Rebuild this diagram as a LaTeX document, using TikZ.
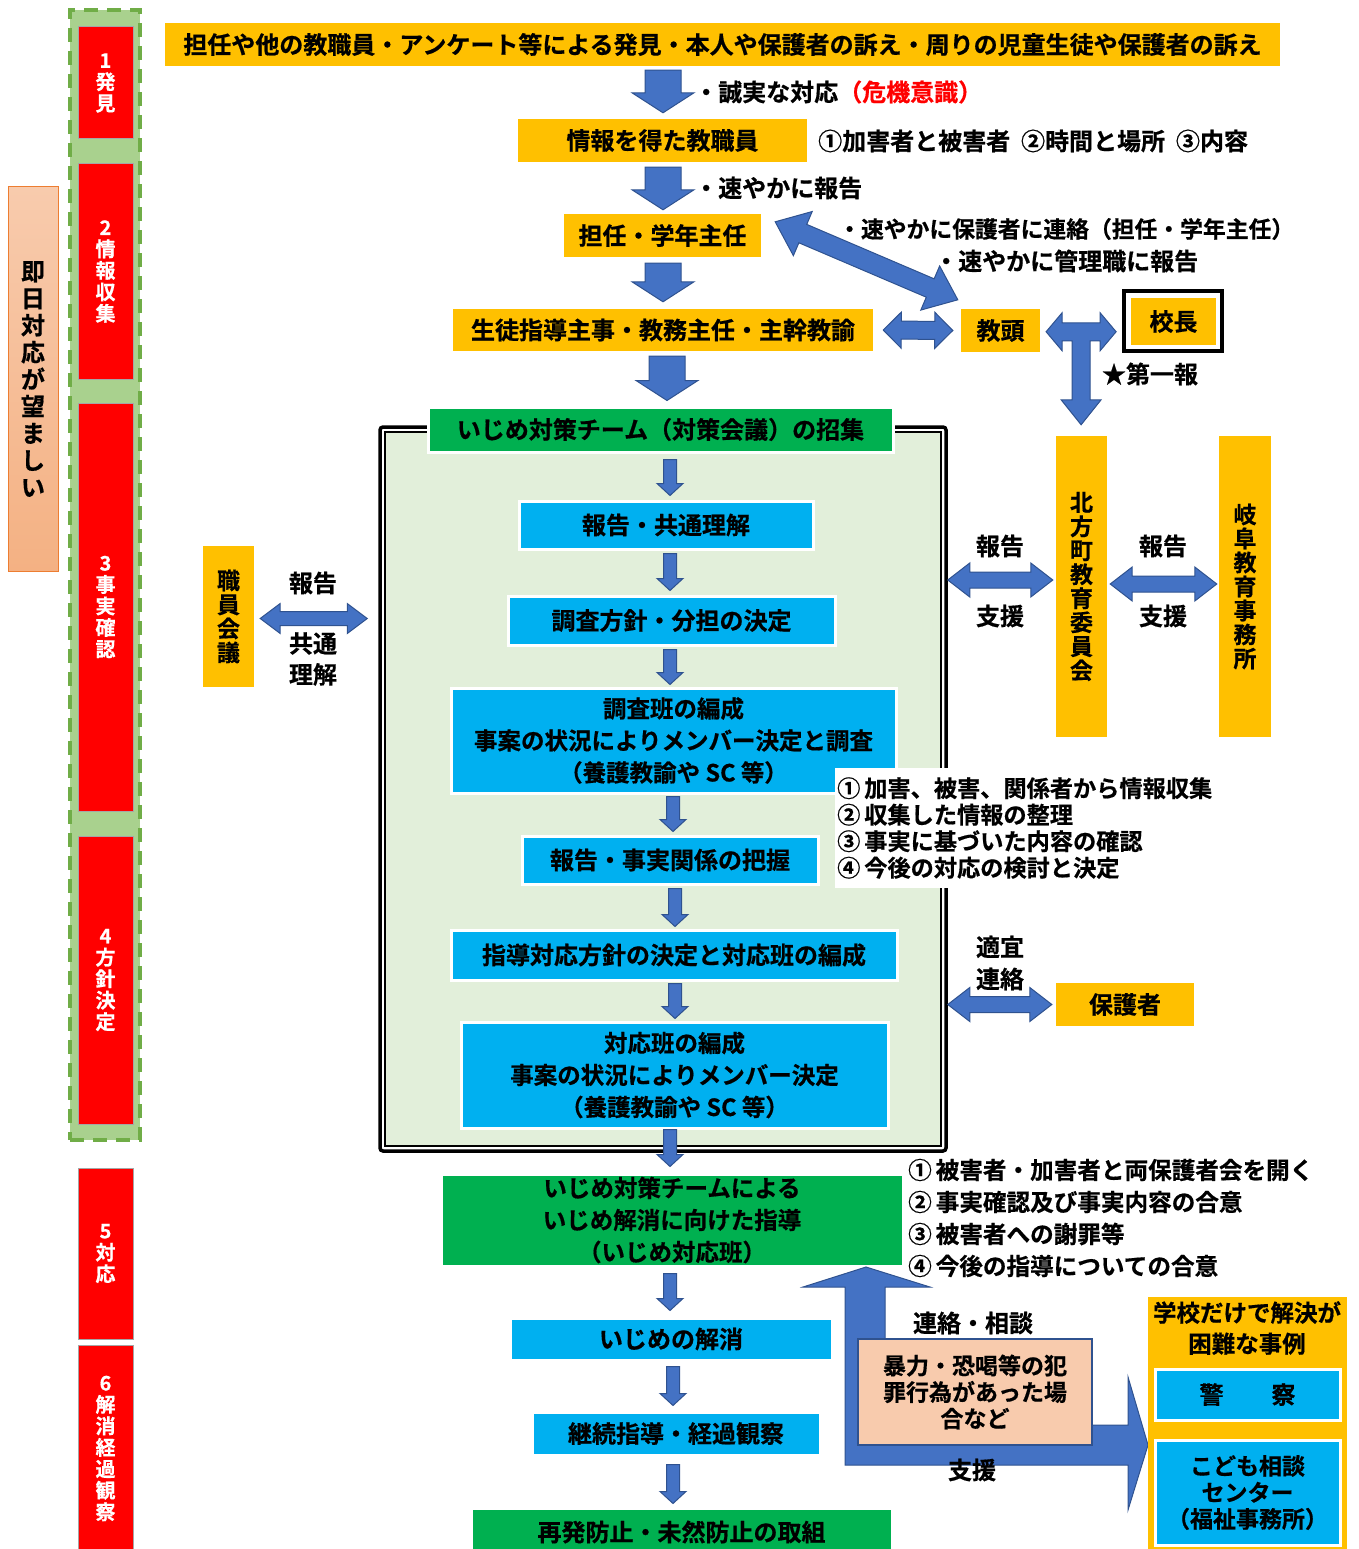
\documentclass[tikz,border=0pt]{standalone}
\usepackage{fontspec}
\setmainfont{Noto Sans CJK JP}[BoldFont={Noto Sans CJK JP Bold},BoldFeatures={FakeBold=0.6}]
\usetikzlibrary{calc}
\definecolor{yel}{HTML}{FFC000}
\definecolor{sky}{HTML}{00B0F0}
\definecolor{grn}{HTML}{00B050}
\definecolor{redb}{HTML}{FF0000}
\definecolor{rgray}{HTML}{A6A6A6}
\definecolor{ablue}{HTML}{4472C4}
\definecolor{aline}{HTML}{2F528F}
\definecolor{paleg}{HTML}{E2EFDA}
\definecolor{dgfill}{HTML}{A9D18E}
\definecolor{dgline}{HTML}{70AD47}
\definecolor{peach}{HTML}{F8CBAD}
\definecolor{salmon}{HTML}{F4B183}
\definecolor{orng}{HTML}{ED7D31}

% box from corners: name, x1, y1, x2, y2, style, text
\newcommand\bx[7]{\node[#6, minimum width={(#4-#2)*1pt}, minimum height={(#5-#3)*1pt}] (#1) at ({(#2+#4)/2},{(#3+#5)/2}) {#7};}
% down block arrow: from node, to node, x, gap top, gap bottom, half shaft, half head, head length
\newcommand\dnar[8]{\path[blk] let \p1=($(#1.south)+(0,#4)$), \p2=($(#2.north)+(0,-#5)$) in
  ({#3pt-#6pt},\y1) -- ({#3pt+#6pt},\y1) -- ({#3pt+#6pt},\y2+#8pt) -- ({#3pt+#7pt},\y2+#8pt) -- (#3pt,\y2) -- ({#3pt-#7pt},\y2+#8pt) -- ({#3pt-#6pt},\y2+#8pt) -- cycle;}
\newcommand\bigdn[5]{\dnar{#1}{#2}{#3}{#4}{#5}{18}{31}{20}}
\newcommand\smalldn[5]{\dnar{#1}{#2}{#3}{#4}{#5}{6.5}{13}{12}}
% double block arrow between two points: p1, p2, half shaft, half head, head length
\newcommand\dblar[5]{\path[blk] let \p1=(#1), \p2=(#2), \n1={atan2(\y2-\y1,\x2-\x1)} in
  (\p1) -- ($(\p1)+(\n1:#5pt)+(\n1+90:#4pt)$) -- ($(\p1)+(\n1:#5pt)+(\n1+90:#3pt)$)
  -- ($(\p2)+(\n1+180:#5pt)+(\n1+90:#3pt)$) -- ($(\p2)+(\n1+180:#5pt)+(\n1+90:#4pt)$) -- (\p2)
  -- ($(\p2)+(\n1+180:#5pt)+(\n1-90:#4pt)$) -- ($(\p2)+(\n1+180:#5pt)+(\n1-90:#3pt)$)
  -- ($(\p1)+(\n1:#5pt)+(\n1-90:#3pt)$) -- ($(\p1)+(\n1:#5pt)+(\n1-90:#4pt)$) -- cycle;}

\begin{document}
\begin{tikzpicture}[x=1pt,y=-1pt,
  every node/.style={font=\bfseries\fontsize{24}{29}\selectfont, inner sep=0pt},
  ybox/.style={fill=yel, align=center},
  bbox/.style={fill=sky, draw=white, line width=3pt, align=center},
  gbox/.style={fill=grn, draw=white, line width=3pt, align=center},
  rbox/.style={fill=redb, draw=rgray, line width=1pt, text=white, align=center, font=\bfseries\fontsize{20}{21.5}\selectfont},
  vt/.style={align=center, font=\bfseries\fontsize{23}{24}\selectfont},
  three/.style={font=\bfseries\fontsize{23.5}{32}\selectfont},
  blk/.style={fill=ablue, draw=aline, line width=1pt}]
\useasboundingbox (0,0) rectangle (1359,1549);

% ---------- left column ----------
\node[top color=peach, bottom color=salmon, draw=orng, line width=1pt, minimum width=50pt, minimum height=384pt, align=center, font=\bfseries\fontsize{24}{27}\selectfont] (soku) at (33,379) {即\\日\\対\\応\\が\\望\\ま\\し\\い};
\node[draw=dgline, line width=3.5pt, dash pattern=on 14pt off 9pt, fill=dgfill, minimum width=70pt, minimum height=1130pt] (phase) at (105,575) {};
\bx{p1}{78}{27}{133}{139}{rbox}{1\\発\\見}
\bx{p2}{78}{164}{133}{379}{rbox}{2\\情\\報\\収\\集}
\bx{p3}{78}{403}{133}{811}{rbox}{3\\事\\実\\確\\認}
\bx{p4}{78}{836}{133}{1124}{rbox}{4\\方\\針\\決\\定}
\bx{p5}{78}{1168}{133}{1339}{rbox}{5\\対\\応}
\bx{p6}{78}{1345}{133}{1552}{rbox}{6\\解\\消\\経\\過\\観\\察}

% ---------- top flow ----------
\bx{top}{165}{23}{1280}{66}{ybox}{担任や他の教職員・アンケート等による発見・本人や保護者の訴え・周りの児童生徒や保護者の訴え}
\bx{info}{518}{119}{807}{162}{ybox}{情報を得た教職員}
\bx{tantou}{564}{214}{761}{257}{ybox}{担任・学年主任}
\bx{seito}{453}{309}{873}{351}{ybox}{生徒指導主事・教務主任・主幹教諭}
\bx{kyoto}{961}{309}{1040}{352}{ybox}{教頭}
\node[draw=black, line width=4pt, fill=white, minimum width=98pt, minimum height=60pt] (kocho) at (1173,321) {};
\bx{kochoin}{1131}{298}{1216}{345}{ybox}{校長}

\node[anchor=west] (l1) at (694,92) {・誠実な対応{\color{redb}（危機意識）}};
\node[anchor=west] (l2) at (818,141) {①加害者と被害者\ \ ②時間と場所\ \ ③内容};
\node[anchor=west] (l3) at (694,188) {・速やかに報告};
\node[anchor=west, font=\bfseries\fontsize{22.8}{27}\selectfont] (l4) at (838,229) {・速やかに保護者に連絡（担任・学年主任）};
\node[anchor=west] (l5) at (934,261) {・速やかに管理職に報告};
\node (l6) at (1150,374) {★第一報};

\bigdn{top}{info}{663}{4}{6}
\bigdn{info}{tantou}{663}{5}{4}
\bigdn{tantou}{seito}{663}{6}{7}
\dblar{$(tantou.north east)+(14,8)$}{$(kyoto.north west)+(-3,-9)$}{10}{24}{30}
\dblar{$(seito.east)+(10,0)$}{$(kyoto.west)+(-8,0)$}{9}{18}{18}
\coordinate (tc) at ($($(kyoto.east)!0.5!(kocho.west)$)+(0,6)$);
\path[blk, shift={(tc)}] (-35,0) -- (-19,-19) -- (-19,-9) -- (19,-9) -- (19,-19) -- (35,0) -- (19,19) -- (19,9) -- (9,9) -- (9,68) -- (20,68) -- (0,93) -- (-20,68) -- (-9,68) -- (-9,9) -- (-19,9) -- (-19,19) -- cycle;

% ---------- frame ----------
\node[draw=black, line width=3.5pt, fill=white, rounded corners=3pt, minimum width=566pt, minimum height=724pt] (frame) at (663,789) {};
\draw[line width=1.8pt, fill=paleg] ($(frame.north west)+(7,7)$) rectangle ($(frame.south east)+(-7,-7)$);

\bx{shoshu}{428}{407}{893}{452}{gbox}{いじめ対策チーム（対策会議）の招集}
\bigdn{seito}{shoshu}{667}{5}{5}

\bx{b1}{519}{501}{813}{549}{bbox}{報告・共通理解}
\bx{b2}{508}{596}{835}{645}{bbox}{調査方針・分担の決定}
\bx{b3}{451}{688}{896}{793}{bbox,three}{調査班の編成\\事案の状況によりメンバー決定と調査\\（養護教諭や SC 等）}
\bx{b4}{522}{836}{818}{884}{bbox}{報告・事実関係の把握}
\bx{b5}{451}{930}{897}{980}{bbox}{指導対応方針の決定と対応班の編成}
\bx{b6}{461}{1022}{888}{1128}{bbox,three}{対応班の編成\\事案の状況によりメンバー決定\\（養護教諭や SC 等）}

\smalldn{shoshu}{b1}{670}{6}{4}
\smalldn{b1}{b2}{670}{3}{4}
\smalldn{b2}{b3}{670}{3}{2}
\smalldn{b3}{b4}{673}{2}{3}
\smalldn{b4}{b5}{675}{3}{2}
\smalldn{b5}{b6}{675}{2}{2}

\node[fill=white, minimum width=393pt, minimum height=120pt, anchor=north west] (note) at (835,768) {};
\node[anchor=west, align=left, font=\bfseries\fontsize{23.2}{26.5}\selectfont] (notetxt) at (837,828) {①\,加害、被害、関係者から情報収集\\②\,収集した情報の整理\\③\,事実に基づいた内容の確認\\④\,今後の対応の検討と決定};

% ---------- left side ----------
\bx{shokuin}{203}{546}{254}{687}{ybox,vt}{職\\員\\会\\議}
\node (l7) at (313,583) {報告};
\node[align=center, font=\bfseries\fontsize{24}{31}\selectfont] (l8) at (313,659) {共通\\理解};
\coordinate (s1) at ($(shokuin.east)+(6,2)$);
\dblar{s1}{$(frame.west |- s1)+(-11,0)$}{7}{15}{20}

% ---------- right side ----------
\bx{kyoiku}{1056}{436}{1107}{737}{ybox,vt}{北\\方\\町\\教\\育\\委\\員\\会}
\bx{gifu}{1219}{436}{1271}{737}{ybox,vt}{岐\\阜\\教\\育\\事\\務\\所}
\node (l9) at (1000,546) {報告};
\node (l10) at (1000,616) {支援};
\node (l11) at (1163,546) {報告};
\node (l12) at (1163,616) {支援};
\coordinate (r1) at (0,580);
\coordinate (r2) at (0,584);
\dblar{$(frame.east |- r1)+(0,0)$}{$(kyoiku.west |- r1)+(-3,0)$}{8}{17}{22}
\dblar{$(kyoiku.east |- r2)+(3,0)$}{$(gifu.west |- r2)+(-2,0)$}{8}{17}{22}

\node[align=center, font=\bfseries\fontsize{24}{32}\selectfont] (l13) at (1000,963) {適宜\\連絡};
\bx{hogo}{1056}{983}{1194}{1026}{ybox}{保護者}
\dblar{$(frame.east |- hogo)+(0,0)$}{$(hogo.west)+(-4,0)$}{8}{17}{22}

% ---------- lower flow ----------
\bx{g2}{441}{1174}{903}{1266}{gbox,three}{いじめ対策チームによる\\いじめ解消に向けた指導\\（いじめ対応班）}
\smalldn{b6}{g2}{670}{0}{6}
\node[anchor=west, align=left, font=\bfseries\fontsize{23.6}{32}\selectfont] (lst2) at (908,1218) {①\,被害者・加害者と両保護者会を開く\\②\,事実確認及び事実内容の合意\\③\,被害者への謝罪等\\④\,今後の指導についての合意};

\bx{b7}{510}{1318}{832}{1360}{bbox}{いじめの解消}
\bx{b8}{532}{1412}{820}{1455}{bbox}{継続指導・経過観察}
\bx{g3}{471}{1508}{892}{1556}{gbox}{再発防止・未然防止の取組}
\smalldn{g2}{b7}{670}{6}{6}
\smalldn{b7}{b8}{673}{5}{5}
\smalldn{b8}{g3}{673}{8}{3}

% bent arrow
\path[blk] (845,1465) -- (845,1287) -- (803,1287) -- (866,1267) -- (930,1287) -- (885,1287) -- (885,1425) -- (1128,1425) -- (1128,1377) -- (1148,1445) -- (1128,1510) -- (1128,1465) -- cycle;
\node (l14) at (973,1323) {連絡・相談};
\bx{crime}{858}{1339}{1092}{1445}{fill=peach, draw=aline, line width=2pt, align=center, font=\bfseries\fontsize{23}{26.5}\selectfont}{暴力・恐喝等の犯\\罪行為があった場\\合など}
\node (l15) at (972,1470) {支援};

\bx{case}{1148}{1297}{1347}{1556}{ybox}{}
\node[align=center, font=\bfseries\fontsize{23.5}{31}\selectfont] (casetxt) at (1247,1328) {学校だけで解決が\\困難な事例};
\bx{police}{1155}{1369}{1340}{1420}{bbox}{警\hspace{2em}察}
\bx{kodomo}{1155}{1440}{1340}{1545}{bbox,font=\bfseries\fontsize{23}{26.5}\selectfont}{こども相談\\センター\\（福祉事務所）}
\end{tikzpicture}
\end{document}
